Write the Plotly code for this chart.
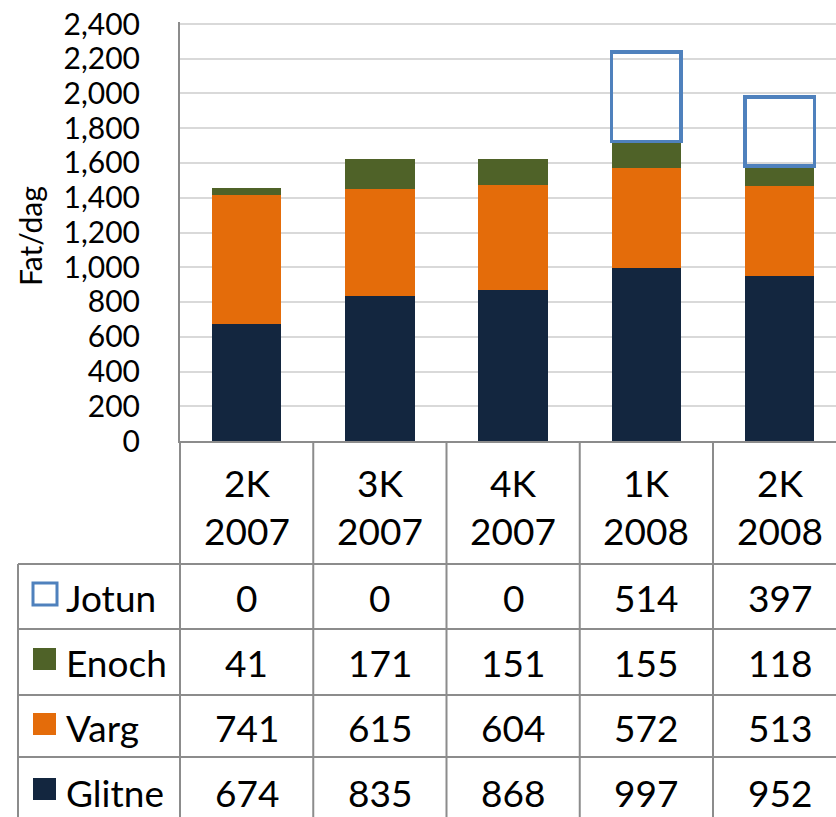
import plotly.graph_objects as go

# ---- data ----
categories = ["2K<br>2007", "3K<br>2007", "4K<br>2007", "1K<br>2008", "2K<br>2008"]
glitne = [674, 835, 868, 997, 952]
varg = [741, 615, 604, 572, 513]
enoch = [41, 171, 151, 155, 118]
jotun = [0, 0, 0, 514, 397]
series_names = ["Jotun", "Enoch", "Varg", "Glitne"]
y_ticks = [0, 200, 400, 600, 800, 1000, 1200, 1400, 1600, 1800, 2000, 2200, 2400]

# ---- style ----
W, H = 836, 817
FONT = "Lato"
C_GLITNE = "#13263f"
C_VARG = "#e46c0a"
C_ENOCH = "#4f6228"
C_JOTUN = "#4f81bd"
GRID = "#d9d9d9"
LINE = "#8c8c8c"

def px(x):
    return x / W

def py(y):
    return 1 - y / H

def nz(vals):
    return [v if v else None for v in vals]

x_idx = list(range(len(categories)))
fig = go.Figure()
bar_w = 0.52
fig.add_trace(go.Bar(x=x_idx, y=glitne, name="Glitne", width=bar_w,
                     marker=dict(color=C_GLITNE, line=dict(width=0))))
fig.add_trace(go.Bar(x=x_idx, y=varg, name="Varg", width=bar_w,
                     marker=dict(color=C_VARG, line=dict(width=0))))
fig.add_trace(go.Bar(x=x_idx, y=enoch, name="Enoch", width=bar_w,
                     marker=dict(color=C_ENOCH, line=dict(width=0))))
fig.add_trace(go.Bar(x=x_idx, y=nz(jotun), name="Jotun", width=bar_w,
                     marker=dict(color="rgba(255,255,255,0)", line=dict(width=3.5, color=C_JOTUN))))

plot_left, grid_top_px, plot_bottom = 180, 24, 441
col_w = 133.25
x_max = -0.5 + (W - plot_left) / col_w
y_max_tick = y_ticks[-1]
y_top = y_max_tick + 12
plot_top = grid_top_px - (y_top - y_max_tick) * (plot_bottom - grid_top_px) / y_max_tick

fig.update_layout(
    width=W, height=H, barmode="stack", showlegend=False,
    margin=dict(l=0, r=0, t=0, b=0, autoexpand=False),
    paper_bgcolor="white", plot_bgcolor="white",
    font=dict(family=FONT, color="black"),
    xaxis=dict(domain=[px(plot_left), 1], range=[-0.5, x_max], showticklabels=False,
               showgrid=False, zeroline=False, showline=True, linecolor=LINE, linewidth=2,
               automargin=False),
    yaxis=dict(domain=[py(plot_bottom), py(plot_top)], range=[0, y_top], tickvals=y_ticks,
               tickformat=",", showgrid=True, gridcolor=GRID, gridwidth=1.5, zeroline=False,
               showline=True, linecolor=LINE, linewidth=2, ticks="", automargin=False,
               ticklabeloverflow="allow",
               ticklabelstandoff=32, tickfont=dict(size=30, family=FONT, color="black")),
)

# y axis title
fig.add_annotation(text="Fat/dag", x=px(30), y=py(236), xref="paper", yref="paper",
                   xanchor="center", yanchor="middle",
                   textangle=-90, showarrow=False, font=dict(size=30, family=FONT))

# ---- data table ----
row_lines = [564, 629, 695, 757]
row_centers = [597, 662, 727, 792]
shapes = []
for i in range(0, len(categories)):
    xx = plot_left + i * col_w
    shapes.append(dict(type="line", xref="paper", yref="paper", x0=px(xx), x1=px(xx),
                       y0=py(plot_bottom), y1=0, line=dict(color=LINE, width=2)))
shapes.append(dict(type="line", xref="paper", yref="paper", x0=px(18), x1=px(18),
                   y0=py(row_lines[0]), y1=0, line=dict(color=LINE, width=2)))
for yy in row_lines:
    shapes.append(dict(type="line", xref="paper", yref="paper", x0=px(18), x1=1,
                       y0=py(yy), y1=py(yy), line=dict(color=LINE, width=2)))

# legend keys
key_colors = {"Jotun": None, "Enoch": C_ENOCH, "Varg": C_VARG, "Glitne": C_GLITNE}
for name, yc in zip(series_names, row_centers):
    k = key_colors[name]
    y0, y1 = yc - 14, yc + 8
    if k is None:
        shapes.append(dict(type="rect", xref="paper", yref="paper", x0=px(33), x1=px(57),
                           y0=py(y1), y1=py(y0), line=dict(color=C_JOTUN, width=3),
                           fillcolor="white"))
    else:
        shapes.append(dict(type="rect", xref="paper", yref="paper", x0=px(33), x1=px(56),
                           y0=py(y1), y1=py(y0), line=dict(width=0), fillcolor=k))
    fig.add_annotation(text=name, x=px(64), y=py(yc), xref="paper", yref="paper",
                       xanchor="left", yanchor="middle", showarrow=False,
                       font=dict(size=37, family=FONT))
fig.update_layout(shapes=shapes)

# header labels
for i, c in enumerate(categories):
    fig.add_annotation(text=c, x=i, y=py(506), xref="x", yref="paper", showarrow=False,
                       xanchor="center", yanchor="middle", font=dict(size=37, family=FONT))

series_vals = {"Jotun": jotun, "Enoch": enoch, "Varg": varg, "Glitne": glitne}
for name, yc in zip(series_names, row_centers):
    for i, v in enumerate(series_vals[name]):
        fig.add_annotation(text=f"{v}", x=i, y=py(yc), xref="x", yref="paper", showarrow=False,
                           xanchor="center", yanchor="middle", font=dict(size=37, family=FONT))

fig.write_html("out.html", config={"displayModeBar": False},
               post_script="document.body.style.margin='0';document.body.style.overflow='hidden';")
